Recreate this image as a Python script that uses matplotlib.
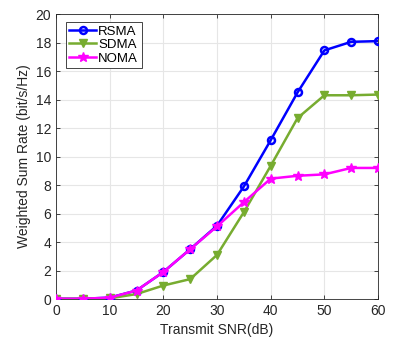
import matplotlib
matplotlib.use("Agg")
import matplotlib.pyplot as plt

snr = [0, 5, 10, 15, 20, 25, 30, 35, 40, 45, 50, 55, 60]
rsma = [0.02, 0.02, 0.1, 0.6, 1.9, 3.5, 5.15, 7.9, 11.15, 14.5, 17.45, 18.05, 18.1]
sdma = [0.02, 0.02, 0.05, 0.35, 0.95, 1.4, 3.1, 6.1, 9.35, 12.7, 14.3, 14.3, 14.35]
noma = [0.02, 0.02, 0.1, 0.6, 1.9, 3.5, 5.1, 6.8, 8.45, 8.65, 8.75, 9.2, 9.2]
xticks = [0, 10, 20, 30, 40, 50, 60]
yticks = [0, 2, 4, 6, 8, 10, 12, 14, 16, 18, 20]

plt.rcParams['font.family'] = ['Liberation Sans', 'DejaVu Sans']
fig = plt.figure(figsize=(4.15, 3.51), dpi=100)
ax = fig.add_axes([0.135, 0.148, 0.776, 0.812])

ax.plot(snr, rsma, color='#0000FF', lw=1.8, marker='o', ms=5, mfc='none', mew=1.8, label='RSMA', zorder=3)
ax.plot(snr, sdma, color='#77AC30', lw=1.8, marker='v', ms=6, label='SDMA', zorder=3)
ax.plot(snr, noma, color='#FF00FF', lw=1.8, marker='*', ms=7, label='NOMA', zorder=4)

ax.set_xlim(0, 60)
ax.set_ylim(0, 20)
ax.set_xticks(xticks)
ax.set_yticks(yticks)
ax.grid(True, color='#e6e6e6', lw=0.8)
ax.set_axisbelow(True)
for s in ax.spines.values():
    s.set_color('#262626')
    s.set_linewidth(0.6)
ax.tick_params(direction='in', length=3, width=0.6, labelsize=10, colors='#262626', top=True, right=True)
ax.set_xlabel('Transmit SNR(dB)', fontsize=10, color='#262626', labelpad=4)
ax.set_ylabel('Weighted Sum Rate (bit/s/Hz)', fontsize=10, color='#262626', labelpad=3)

leg = ax.legend(loc='upper left', fontsize=9.5, fancybox=False, edgecolor='#262626', framealpha=1,
                handlelength=2.0, handletextpad=0.2, borderpad=0.25, labelspacing=0.1,
                borderaxespad=0, bbox_to_anchor=(0.031, 0.972))
leg.get_frame().set_linewidth(0.6)

fig.savefig('out.png', dpi=100)
